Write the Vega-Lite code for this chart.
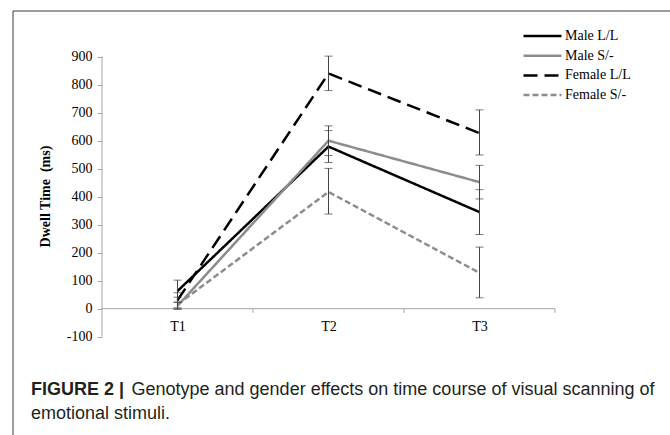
{
  "$schema": "https://vega.github.io/schema/vega-lite/v6.json",
  "width": 657,
  "height": 424,
  "autosize": {"type": "none"},
  "padding": {"left": 13, "top": 11, "right": 0, "bottom": 0},
  "background": "white",
  "config": {
    "view": {"stroke": null},
    "axis": {"grid": false}
  },
  "title": {
    "text": "FIGURE 2 |",
    "subtitle": "emotional stimuli.",
    "orient": "bottom",
    "anchor": "start",
    "frame": "group",
    "offset": -55,
    "dx": 18,
    "font": "Liberation Sans",
    "fontSize": 18,
    "fontWeight": "bold",
    "color": "#231f20",
    "subtitleFont": "Liberation Sans",
    "subtitleFontSize": 18,
    "subtitleFontWeight": "normal",
    "subtitleColor": "#231f20",
    "subtitlePadding": 6
  },
  "datasets": {
    "series": [
      {"t": 1, "group": "Male L/L", "mean": 63, "lo": 24, "hi": 102},
      {"t": 2, "group": "Male L/L", "mean": 579, "lo": 522, "hi": 636},
      {"t": 3, "group": "Male L/L", "mean": 345, "lo": 265, "hi": 425},
      {"t": 1, "group": "Male S/-", "mean": 10, "lo": -2, "hi": 22},
      {"t": 2, "group": "Male S/-", "mean": 600, "lo": 547, "hi": 653},
      {"t": 3, "group": "Male S/-", "mean": 452, "lo": 392, "hi": 512},
      {"t": 1, "group": "Female L/L", "mean": 30, "lo": 3, "hi": 57},
      {"t": 2, "group": "Female L/L", "mean": 840, "lo": 779, "hi": 902},
      {"t": 3, "group": "Female L/L", "mean": 627, "lo": 549, "hi": 710},
      {"t": 1, "group": "Female S/-", "mean": 15, "lo": -1, "hi": 41},
      {"t": 2, "group": "Female S/-", "mean": 417, "lo": 338, "hi": 501},
      {"t": 3, "group": "Female S/-", "mean": 128, "lo": 39, "hi": 220}
    ],
    "edges": [{"edge": 1.5}, {"edge": 2.5}, {"edge": 3.5}],
    "one": [{}]
  },
  "layer": [
    {
      "data": {"name": "series"},
      "mark": {"type": "line", "strokeWidth": 2.5},
      "encoding": {
        "x": {
          "field": "t", "type": "quantitative",
          "scale": {"domain": [-0.0894, 4.2616], "nice": false, "zero": false},
          "axis": {
            "values": [1, 2, 3], "labelExpr": "'T' + datum.value",
            "title": "Genotype and gender effects on time course of visual scanning of",
            "titleX": 118, "titleY": 71, "titleAlign": "left", "titleBaseline": "top", "titleAngle": 0,
            "titleFont": "Liberation Sans", "titleFontSize": 18, "titleFontWeight": "normal", "titleColor": "#231f20",
            "domain": false, "ticks": false, "tickSize": 0, "offset": -126, "labelPadding": 10,
            "labelFont": "Liberation Serif", "labelFontSize": 14, "labelColor": "#000000"
          }
        },
        "y": {
          "field": "mean", "type": "quantitative",
          "scale": {"domain": [-451.1, 1063.2], "nice": false, "zero": false},
          "axis": {
            "values": [-100, 0, 100, 200, 300, 400, 500, 600, 700, 800, 900],
            "labelExpr": "datum.value < 0 ? '-' + abs(datum.value) : '' + datum.value",
            "title": "Dwell Time \u00a0(ms)", "domain": false, "ticks": true, "tickSize": 5, "tickColor": "#a6a6a6",
            "offset": -89, "labelPadding": 5,
            "labelFont": "Liberation Serif", "labelFontSize": 14, "labelColor": "#000000",
            "titleFont": "Liberation Serif", "titleFontSize": 14, "titleFontWeight": "bold", "titleColor": "#000000", "titlePadding": 14,
            "titleY": 185
          }
        },
        "color": {
          "field": "group", "type": "nominal",
          "scale": {"domain": ["Male L/L", "Male S/-", "Female L/L", "Female S/-"], "range": ["#000000", "#8c8c8c", "#000000", "#8c8c8c"]},
          "legend": {
            "orient": "none", "legendX": 509, "legendY": 16, "title": null,
            "symbolType": "stroke", "symbolSize": 1444, "symbolStrokeWidth": 2.5, "clipHeight": 18, "rowPadding": 1.7,
            "labelFont": "Liberation Serif", "labelFontSize": 14, "labelFontWeight": "normal", "labelColor": "#000000", "labelOffset": 2
          }
        },
        "strokeDash": {
          "field": "group", "type": "nominal",
          "scale": {"domain": ["Male L/L", "Male S/-", "Female L/L", "Female S/-"], "range": [[1, 0], [1, 0], [14, 7], [6, 3]]},
          "legend": {
            "orient": "none", "legendX": 509, "legendY": 16, "title": null,
            "symbolType": "stroke", "symbolSize": 1444, "symbolStrokeWidth": 2.5, "clipHeight": 18, "rowPadding": 1.7,
            "labelFont": "Liberation Serif", "labelFontSize": 14, "labelFontWeight": "normal", "labelColor": "#000000", "labelOffset": 2
          }
        }
      }
    },
    {
      "data": {"name": "one"},
      "mark": {"type": "rule", "color": "#3a3a3a", "strokeWidth": 1},
      "encoding": {
        "x": {"datum": -0.0894, "type": "quantitative"},
        "x2": {"datum": 4.2616},
        "y": {"datum": 1063.2, "type": "quantitative"}
      }
    },
    {
      "data": {"name": "one"},
      "mark": {"type": "rule", "color": "#3a3a3a", "strokeWidth": 1},
      "encoding": {
        "x": {"datum": -0.0894, "type": "quantitative"},
        "y": {"datum": -451.1, "type": "quantitative"},
        "y2": {"datum": 1063.2}
      }
    },
    {
      "data": {"name": "one"},
      "mark": {"type": "rule", "color": "#a6a6a6", "strokeWidth": 1},
      "encoding": {
        "x": {"datum": 0.5, "type": "quantitative"},
        "y": {"datum": -100, "type": "quantitative"},
        "y2": {"datum": 900}
      }
    },
    {
      "data": {"name": "one"},
      "mark": {"type": "rule", "color": "#a6a6a6", "strokeWidth": 1},
      "encoding": {
        "x": {"datum": 0.5, "type": "quantitative"},
        "x2": {"datum": 3.5},
        "y": {"datum": 0, "type": "quantitative"}
      }
    },
    {
      "data": {"name": "edges"},
      "mark": {"type": "rule", "color": "#a6a6a6", "strokeWidth": 1},
      "encoding": {
        "x": {"field": "edge", "type": "quantitative"},
        "y": {"datum": 0, "type": "quantitative"},
        "y2": {"datum": -15}
      }
    },
    {
      "data": {"name": "series"},
      "mark": {"type": "rule", "color": "#404040", "strokeWidth": 1},
      "encoding": {
        "x": {"field": "t", "type": "quantitative"},
        "y": {"field": "lo", "type": "quantitative"},
        "y2": {"field": "hi"}
      }
    },
    {
      "data": {"name": "series"},
      "mark": {"type": "tick", "orient": "horizontal", "color": "#404040", "size": 8, "thickness": 1},
      "encoding": {
        "x": {"field": "t", "type": "quantitative"},
        "y": {"field": "lo", "type": "quantitative"}
      }
    },
    {
      "data": {"name": "series"},
      "mark": {"type": "tick", "orient": "horizontal", "color": "#404040", "size": 8, "thickness": 1},
      "encoding": {
        "x": {"field": "t", "type": "quantitative"},
        "y": {"field": "hi", "type": "quantitative"}
      }
    }
  ]
}
